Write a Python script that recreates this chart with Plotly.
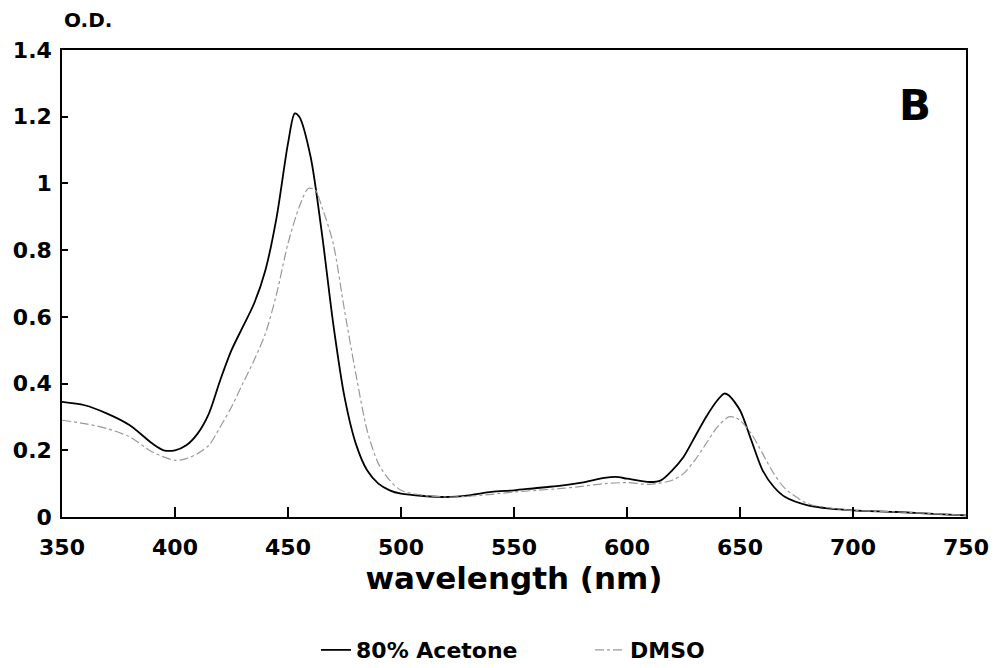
import plotly.graph_objects as go

# Wavelength (nm) and optical density
acetone_wl = [350, 360, 370, 380, 390, 395, 400, 405, 410, 415, 420, 425, 430, 435, 440, 445,
              450, 453, 455, 460, 465, 470, 475, 480, 485, 490, 495, 500, 510, 520, 530, 540,
              550, 560, 570, 580, 590, 595, 600, 610, 615, 620, 625, 630, 635, 640, 643, 645,
              650, 655, 660, 665, 670, 680, 690, 700, 720, 740, 750]
acetone_od = [0.345, 0.335, 0.31, 0.275, 0.22, 0.20, 0.20, 0.215, 0.25, 0.31, 0.41, 0.50, 0.57,
              0.64, 0.74, 0.90, 1.12, 1.21, 1.20, 1.08, 0.85, 0.58, 0.36, 0.22, 0.14, 0.10, 0.08,
              0.07, 0.063, 0.06, 0.065, 0.075, 0.08, 0.087, 0.093, 0.103, 0.117, 0.12, 0.115,
              0.105, 0.11, 0.14, 0.18, 0.24, 0.30, 0.35, 0.37, 0.365, 0.32, 0.23, 0.14, 0.09,
              0.06, 0.035, 0.025, 0.02, 0.015, 0.008, 0.005]

dmso_wl = [350, 360, 370, 380, 390, 400, 405, 410, 415, 420, 425, 430, 435, 440, 445, 450, 455,
           459, 462, 465, 470, 475, 480, 485, 490, 495, 500, 510, 520, 530, 540, 550, 560, 570,
           580, 590, 600, 610, 620, 625, 630, 635, 640, 645, 648, 650, 655, 660, 665, 670, 680,
           690, 700, 720, 750]
dmso_od = [0.29, 0.28, 0.265, 0.24, 0.195, 0.17, 0.175, 0.19, 0.215, 0.27, 0.33, 0.40, 0.47,
           0.55, 0.67, 0.82, 0.93, 0.985, 0.98, 0.93, 0.82, 0.62, 0.43, 0.26, 0.16, 0.11, 0.08,
           0.065, 0.06, 0.062, 0.068, 0.075, 0.08, 0.085, 0.092, 0.10, 0.103, 0.098, 0.11, 0.13,
           0.17, 0.22, 0.27, 0.30, 0.298, 0.29, 0.25, 0.19, 0.13, 0.085, 0.04, 0.027, 0.02,
           0.015, 0.005]

x_ticks = [350, 400, 450, 500, 550, 600, 650, 700, 750]
y_ticks = [0, 0.2, 0.4, 0.6, 0.8, 1, 1.2, 1.4]

FONT = "DejaVu Sans"

fig = go.Figure()
fig.add_trace(go.Scatter(x=acetone_wl, y=acetone_od, mode="lines", name="80% Acetone",
                         line=dict(color="black", width=1.8, shape="spline", smoothing=0.8)))
fig.add_trace(go.Scatter(x=dmso_wl, y=dmso_od, mode="lines", name="DMSO",
                         line=dict(color="#999999", width=1.2, dash="dashdot",
                                   shape="spline", smoothing=0.8)))

fig.update_layout(
    width=997, height=668,
    margin=dict(l=62, r=31, t=50, b=151, autoexpand=False),
    plot_bgcolor="white", paper_bgcolor="white",
    font=dict(family=FONT, color="black", size=22, weight="bold"),
    showlegend=True,
    legend=dict(orientation="h", x=0.281, xanchor="left", y=-0.285, yanchor="middle",
                font=dict(size=22, family=FONT, weight="bold"),
                entrywidth=229, entrywidthmode="pixels", bgcolor="rgba(0,0,0,0)"),
    xaxis=dict(range=[350, 750], tickvals=x_ticks, ticks="inside", ticklen=10,
               tickwidth=1.5, tickcolor="black", showline=True, linecolor="black",
               linewidth=1.5, mirror=True, showgrid=False, zeroline=False,
               ticklabelstandoff=10,
               tickfont=dict(size=22, family=FONT, weight="bold"),
               title=dict(text="wavelength (nm)", font=dict(size=31, family=FONT, weight="bold"),
                          standoff=6)),
    yaxis=dict(range=[0, 1.4], tickvals=y_ticks, ticks="inside", ticklen=6,
               tickwidth=1.5, tickcolor="black", showline=True, linecolor="black",
               linewidth=1.5, mirror=True, showgrid=False, zeroline=False,
               ticklabelstandoff=4,
               tickfont=dict(size=22, family=FONT, weight="bold")),
    annotations=[
        dict(text="O.D.", xref="paper", yref="paper", x=0.0, y=1.0, xanchor="left",
             yanchor="bottom", yshift=16, showarrow=False,
             font=dict(size=20, family=FONT, weight="bold")),
        dict(text="B", xref="paper", yref="paper", x=0.9635, y=0.938, xanchor="right",
             yanchor="top", showarrow=False,
             font=dict(size=42, family=FONT, weight="bold")),
    ],
)

fig.write_html("out.html")
